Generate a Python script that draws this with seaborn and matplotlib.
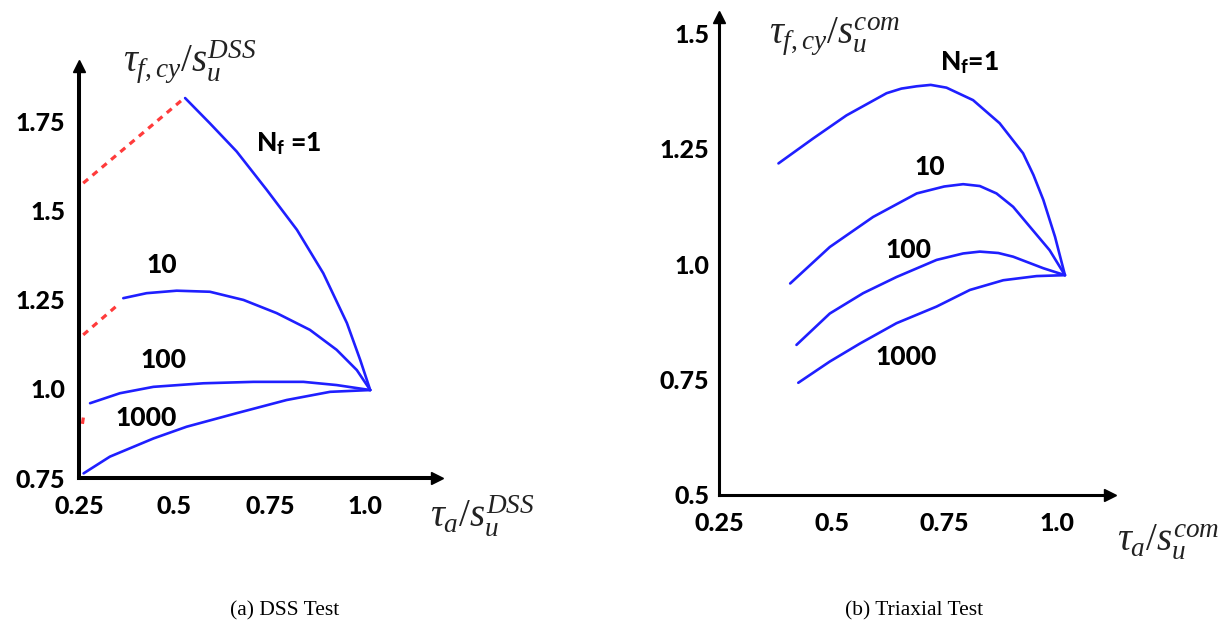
import matplotlib
matplotlib.use("Agg")
import matplotlib.pyplot as plt
import seaborn as sns
import pandas as pd

# ---------------- data ----------------
# (a) DSS test
dss_n1_x = [0.528, 0.593, 0.663, 0.742, 0.821, 0.890, 0.952, 0.987, 1.013]
dss_n1_y = [1.817, 1.746, 1.667, 1.559, 1.447, 1.325, 1.185, 1.081, 0.997]
dss_n10_x = [0.366, 0.427, 0.506, 0.593, 0.681, 0.768, 0.855, 0.925, 0.978, 1.013]
dss_n10_y = [1.255, 1.269, 1.276, 1.273, 1.250, 1.213, 1.166, 1.110, 1.053, 0.997]
dss_n100_x = [0.279, 0.357, 0.445, 0.576, 0.707, 0.838, 0.925, 1.013]
dss_n100_y = [0.960, 0.988, 1.006, 1.016, 1.020, 1.020, 1.011, 0.997]
dss_n1000_x = [0.262, 0.331, 0.445, 0.532, 0.663, 0.794, 0.908, 1.013]
dss_n1000_y = [0.763, 0.810, 0.861, 0.894, 0.932, 0.969, 0.992, 0.997]
dss_red1_x = [0.261, 0.526]
dss_red1_y = [1.578, 1.817]
dss_red2_x = [0.261, 0.357]
dss_red2_y = [1.152, 1.241]
dss_red3_x = [0.259, 0.262]
dss_red3_y = [0.902, 0.924]

# (b) Triaxial test
tx_n1_x = [0.382, 0.459, 0.533, 0.622, 0.655, 0.689, 0.720, 0.755, 0.814, 0.873, 0.925,
           0.948, 0.970, 0.996, 1.018]
tx_n1_y = [1.218, 1.272, 1.322, 1.370, 1.380, 1.385, 1.388, 1.382, 1.355, 1.305, 1.240,
           1.193, 1.139, 1.059, 0.976]
tx_n10_x = [0.408, 0.496, 0.592, 0.689, 0.750, 0.792, 0.829, 0.866, 0.903, 0.940, 0.984, 1.018]
tx_n10_y = [0.958, 1.037, 1.102, 1.153, 1.168, 1.173, 1.169, 1.153, 1.124, 1.081, 1.030, 0.976]
tx_n100_x = [0.422, 0.496, 0.570, 0.644, 0.733, 0.792, 0.829, 0.870, 0.903, 0.970, 1.018]
tx_n100_y = [0.825, 0.893, 0.937, 0.972, 1.009, 1.023, 1.027, 1.024, 1.016, 0.991, 0.976]
tx_n1000_x = [0.426, 0.496, 0.563, 0.644, 0.733, 0.807, 0.881, 0.955, 1.018]
tx_n1000_y = [0.743, 0.789, 0.828, 0.872, 0.908, 0.944, 0.965, 0.974, 0.976]

dss_xticks = [0.25, 0.5, 0.75, 1.0]
dss_xticklabels = ["0.25", "0.5", "0.75", "1.0"]
dss_yticks = [0.75, 1.0, 1.25, 1.5, 1.75]
dss_yticklabels = ["0.75", "1.0", "1.25", "1.5", "1.75"]
tx_xticks = [0.25, 0.5, 0.75, 1.0]
tx_xticklabels = ["0.25", "0.5", "0.75", "1.0"]
tx_yticks = [0.5, 0.75, 1.0, 1.25, 1.5]
tx_yticklabels = ["0.5", "0.75", "1.0", "1.25", "1.5"]

curve_labels = ["N$_{\\mathbf{f}}$ =1", "10", "100", "1000"]
dss_label_pos = [(0.799, 1.69), (0.467, 1.348), (0.471, 1.081), (0.427, 0.918)]
tx_label_pos = [(0.807, 1.435), (0.718, 1.211), (0.670, 1.030), (0.666, 0.799)]

# ---------------- style ----------------
sns.set_theme(style="white")
plt.rcParams["font.family"] = ["Lato", "DejaVu Sans"]
plt.rcParams["text.color"] = "black"
plt.rcParams["mathtext.fontset"] = "custom"
plt.rcParams["mathtext.rm"] = "Liberation Serif"
plt.rcParams["mathtext.it"] = "Liberation Serif:italic"
plt.rcParams["mathtext.bf"] = "Lato:black"

BLUE = "#1f1fff"
RED = "#ff3b3b"
TICKFS = 18
TICKW = 900

fig = plt.figure(figsize=(12.3, 6.28), dpi=100)
fig.patch.set_facecolor("white")

ax1 = fig.add_axes([79 / 1230, (628 - 478) / 628, (437 - 79) / 1230, (478 - 66) / 628])
ax2 = fig.add_axes([719 / 1230, (628 - 495) / 628, (1110 - 719) / 1230, (495 - 17) / 628])


def draw_curve(ax, xs, ys, color=BLUE, lw=1.9):
    df = pd.DataFrame({"x": xs, "y": ys})
    sns.lineplot(data=df, x="x", y="y", ax=ax, sort=False, estimator=None,
                 color=color, linewidth=lw)
    ax.lines[-1].set_solid_joinstyle("round")


for xs, ys in [(dss_n1_x, dss_n1_y), (dss_n10_x, dss_n10_y),
               (dss_n100_x, dss_n100_y), (dss_n1000_x, dss_n1000_y)]:
    draw_curve(ax1, xs, ys)
for xs, ys in [(dss_red1_x, dss_red1_y), (dss_red2_x, dss_red2_y), (dss_red3_x, dss_red3_y)]:
    df = pd.DataFrame({"x": xs, "y": ys})
    sns.lineplot(data=df, x="x", y="y", ax=ax1, sort=False, estimator=None,
                 color=RED, linewidth=2.3)
    ax1.lines[-1].set_dashes([2.0, 1.8])

for xs, ys in [(tx_n1_x, tx_n1_y), (tx_n10_x, tx_n10_y),
               (tx_n100_x, tx_n100_y), (tx_n1000_x, tx_n1000_y)]:
    draw_curve(ax2, xs, ys)


def style_axis(ax, xlim, ylim, xt, xtl, yt, ytl, spw, ypad):
    ax.set_xlim(*xlim)
    ax.set_ylim(*ylim)
    for s in ["top", "right"]:
        ax.spines[s].set_visible(False)
    for s in ["left", "bottom"]:
        ax.spines[s].set_color("black")
        ax.spines[s].set_linewidth(spw)
    ax.set_xticks(xt)
    ax.set_xticklabels(xtl, fontsize=TICKFS, fontweight=TICKW)
    ax.set_yticks(yt)
    ax.set_yticklabels(ytl, fontsize=TICKFS, fontweight=TICKW)
    ax.tick_params(axis="x", direction="in", length=6, width=spw * 0.8, pad=12, colors="black")
    ax.tick_params(axis="y", direction="in", length=6, width=spw * 0.8, pad=ypad, colors="black")
    ax.set_xlabel("")
    ax.set_ylabel("")
    ax.grid(False)
    ax.set_facecolor("none")
    ax.plot(1, 0, ">", color="black", ms=8, transform=ax.transAxes, clip_on=False)
    ax.plot(0, 1, "^", color="black", ms=8, transform=ax.transAxes, clip_on=False)


style_axis(ax1, (0.25, 1.188), (0.75, 1.907), dss_xticks, dss_xticklabels,
           dss_yticks, dss_yticklabels, 2.9, 10)
style_axis(ax2, (0.25, 1.118), (0.5, 1.535), tx_xticks, tx_xticklabels,
           tx_yticks, tx_yticklabels, 2.2, 7)

for lab, (x, y) in zip(curve_labels, dss_label_pos):
    ax1.text(x, y, lab, fontsize=19, fontweight=TICKW, color="black", ha="center", va="center")
for lab, (x, y) in zip(curve_labels, tx_label_pos):
    ax2.text(x, y, lab.replace(" =", "="), fontsize=19, fontweight=TICKW, color="black",
             ha="center", va="center")

# axis titles
LABFS = 28
fig.text(190 / 1230, 1 - 62 / 628, r"$\tau_{f,cy}/s_u^{DSS}$", fontsize=LABFS, color="#222222",
         ha="center", va="center")
fig.text(482 / 1230, 1 - 515 / 628, r"$\tau_a/s_u^{DSS}$", fontsize=LABFS, color="#222222",
         ha="center", va="center")
fig.text(835 / 1230, 1 - 36 / 628, r"$\tau_{f,cy}/s_u^{com}$", fontsize=LABFS, color="#222222",
         ha="center", va="center")
fig.text(1168 / 1230, 1 - 542 / 628, r"$\tau_a/s_u^{com}$", fontsize=LABFS, color="#222222",
         ha="center", va="center")

# captions
fig.text(285 / 1230, 1 - 611 / 628, "(a) DSS Test", fontsize=15.5, family="Liberation Serif",
         color="black", ha="center", va="center")
fig.text(914 / 1230, 1 - 611 / 628, "(b) Triaxial Test", fontsize=15.5, family="Liberation Serif",
         color="black", ha="center", va="center")

fig.savefig("out.png", dpi=100, facecolor="white")
